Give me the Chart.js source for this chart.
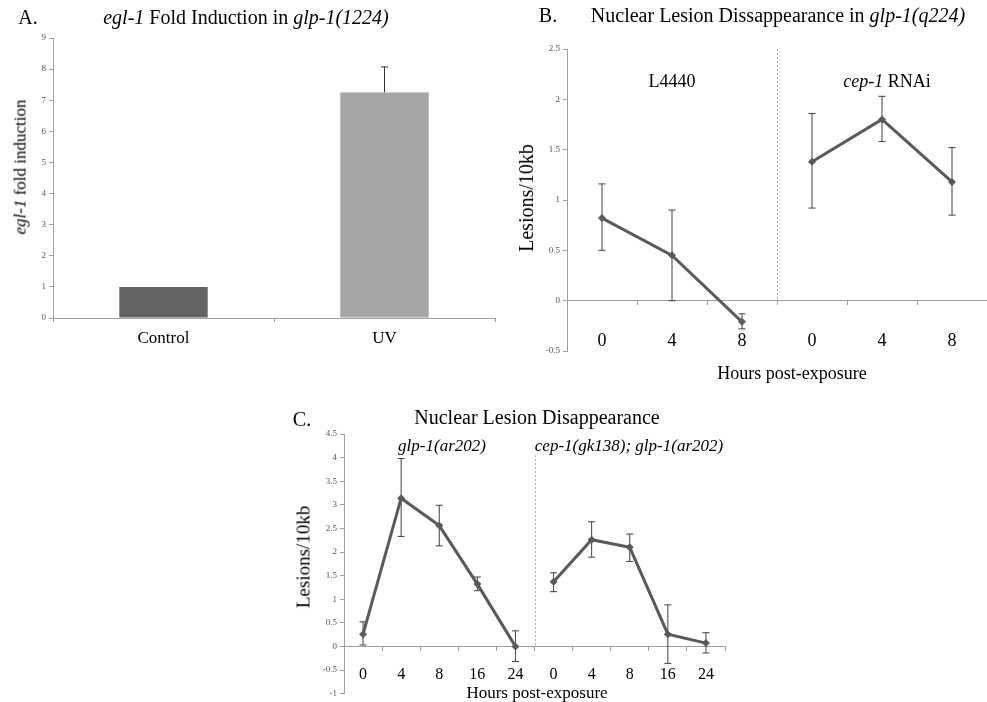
<!DOCTYPE html>
<html>
<head>
<meta charset="utf-8">
<script src="https://cdn.jsdelivr.net/npm/chart.js@4.4.1/dist/chart.umd.min.js"></script>
<style>
  html, body { margin:0; padding:0; background:#fff; }
  body { width:987px; height:702px; position:relative; overflow:hidden; font-family:'Liberation Serif','Times New Roman',serif; color:#000; }
  canvas { position:absolute; }
  .t { position:absolute; white-space:nowrap; transform:translate(-50%,-50%); line-height:1; }
  .r { position:absolute; white-space:nowrap; transform:translate(-50%,-50%) rotate(-90deg); line-height:1; }
  i { font-style:italic; }
</style>
</head>
<body>
<canvas id="cA" width="500" height="360" style="left:0;top:0"></canvas>
<canvas id="cB" width="501" height="400" style="left:490px;top:0"></canvas>
<canvas id="cC" width="460" height="302" style="left:270px;top:400px"></canvas>

<div class="t" style="left:28px;top:17px;font-size:20px">A.</div>
<div class="t" style="left:246px;top:17px;font-size:20px"><i>egl-1</i> Fold Induction in <i>glp-1(1224)</i></div>
<div class="r" style="left:20px;top:167px;font-size:17px"><i>egl-1</i> fold induction</div>

<div class="t" style="left:548px;top:15px;font-size:20px">B.</div>
<div class="t" style="left:778px;top:15px;font-size:20px">Nuclear Lesion Dissappearance in <i>glp-1(q224)</i></div>
<div class="r" style="left:526px;top:198px;font-size:20px">Lesions/10kb</div>
<div class="t" style="left:672px;top:81px;font-size:18px">L4440</div>
<div class="t" style="left:887px;top:81px;font-size:18px"><i>cep-1</i> RNAi</div>
<div class="t" style="left:792px;top:373px;font-size:18px">Hours post-exposure</div>

<div class="t" style="left:302px;top:419px;font-size:20px">C.</div>
<div class="t" style="left:537px;top:417px;font-size:20px">Nuclear Lesion Disappearance</div>
<div class="r" style="left:303px;top:557px;font-size:19px">Lesions/10kb</div>
<div class="t" style="left:442px;top:445px;font-size:17px"><i>glp-1(ar202)</i></div>
<div class="t" style="left:629px;top:445px;font-size:17px"><i>cep-1(gk138); glp-1(ar202)</i></div>
<div class="t" style="left:537px;top:692px;font-size:17px">Hours post-exposure</div>

<script>
// ---------- Panel A data ----------
const aCategories = ['Control', 'UV'];
const aValues = [1.0, 7.25];
const aErrHigh = [1.0, 8.07];
const aTicks = [0, 1, 2, 3, 4, 5, 6, 7, 8, 9];

// ---------- Panel B data ----------
const bLabels = ['0', '4', '8', '0', '4', '8'];
const bL4440 = [0.82, 0.45, -0.21, null, null, null];
const bL4440Low = [0.50, 0.00, -0.28, null, null, null];
const bL4440High = [1.16, 0.90, -0.13, null, null, null];
const bCep = [null, null, null, 1.38, 1.80, 1.18];
const bCepLow = [null, null, null, 0.92, 1.58, 0.85];
const bCepHigh = [null, null, null, 1.86, 2.03, 1.52];

// ---------- Panel C data ----------
const cLabels = ['0', '4', '8', '16', '24', '0', '4', '8', '16', '24'];
const cGlp = [0.26, 3.14, 2.56, 1.32, 0.00, null, null, null, null, null];
const cGlpLow = [0.03, 2.33, 2.13, 1.18, -0.32, null, null, null, null, null];
const cGlpHigh = [0.52, 3.98, 2.99, 1.47, 0.33, null, null, null, null, null];
const cCep = [null, null, null, null, null, 1.37, 2.26, 2.10, 0.26, 0.07];
const cCepLow = [null, null, null, null, null, 1.16, 1.89, 1.80, -0.36, -0.14];
const cCepHigh = [null, null, null, null, null, 1.56, 2.64, 2.38, 0.88, 0.29];

const SERIF = "'Liberation Serif','Times New Roman',serif";
const LINE = '#5a5a5a';
const AXIS = '#a0a0a0';

const errorBars = {
  id: 'errorBars',
  beforeDatasetsDraw(chart) {
    const ctx = chart.ctx, y = chart.scales.y;
    chart.data.datasets.forEach((ds, di) => {
      if (!ds.errHigh) return;
      const meta = chart.getDatasetMeta(di);
      meta.data.forEach((el, i) => {
        const v = ds.data[i];
        if (v === null || v === undefined) return;
        const hi = ds.errHigh[i];
        const lo = ds.errLow ? ds.errLow[i] : v;
        if (hi === lo) return;
        const x = el.x;
        const yh = y.getPixelForValue(hi), yl = y.getPixelForValue(lo);
        ctx.save();
        ctx.strokeStyle = ds.errColor || '#333';
        ctx.lineWidth = 1;
        ctx.beginPath();
        ctx.moveTo(x, yl); ctx.lineTo(x, yh);
        const c = ds.capHalf || 3.5;
        ctx.moveTo(x - c, yh); ctx.lineTo(x + c, yh);
        if (ds.errLow) { ctx.moveTo(x - c, yl); ctx.lineTo(x + c, yl); }
        ctx.stroke();
        ctx.restore();
      });
    });
  }
};

const divider = {
  id: 'divider',
  beforeDatasetsDraw(chart, args, opts) {
    if (opts.index === undefined) return;
    const xs = chart.scales.x, ys = chart.scales.y;
    const x = (xs.getPixelForValue(opts.index - 1) + xs.getPixelForValue(opts.index)) / 2;
    const ctx = chart.ctx;
    ctx.save();
    ctx.strokeStyle = '#b0b0b0';
    ctx.lineWidth = 1;
    ctx.setLineDash([2, 2]);
    ctx.beginPath();
    ctx.moveTo(Math.round(x) + 0.5, ys.getPixelForValue(opts.from));
    ctx.lineTo(Math.round(x) + 0.5, ys.getPixelForValue(0));
    ctx.stroke();
    ctx.restore();
  }
};

function yAxis(min, max, step, width) {
  return {
    min, max,
    ticks: { stepSize: step, color: '#555', font: { family: SERIF, size: 9 }, padding: 3,
             callback: v => String(Math.round(v * 10) / 10) },
    grid: { drawOnChartArea: false, drawTicks: true, tickLength: 4, color: AXIS },
    border: { color: AXIS, width: 1 },
    afterFit(s) { s.width = width; }
  };
}

function lineDs(data, lo, hi) {
  return {
    data, errLow: lo, errHigh: hi, errColor: '#404040',
    borderColor: LINE, borderWidth: 3, backgroundColor: LINE,
    pointStyle: 'rectRot', pointRadius: 4, pointBackgroundColor: LINE, pointBorderWidth: 0,
    tension: 0, spanGaps: false, fill: false
  };
}

const common = {
  responsive: false, animation: false, devicePixelRatio: 1,
  plugins: { legend: { display: false }, tooltip: { enabled: false }, title: { display: false } }
};

// ---------- Chart A ----------
new Chart(document.getElementById('cA'), {
  type: 'bar',
  data: {
    labels: aCategories,
    datasets: [{
      data: aValues, errHigh: aErrHigh, errColor: '#333',
      backgroundColor: ['#646464', '#a6a6a6'],
      borderWidth: 0, barPercentage: 0.4, categoryPercentage: 1.0
    }]
  },
  options: Object.assign({}, common, {
    layout: { padding: { top: 38, right: 5, left: 0, bottom: 0 } },
    scales: {
      x: {
        ticks: { color: '#000', font: { family: SERIF, size: 17 }, padding: 6 },
        grid: { drawOnChartArea: false, drawTicks: true, tickLength: 4, color: AXIS, offset: true },
        border: { color: AXIS },
        afterFit(s) { s.height = 42; }
      },
      y: yAxis(0, 9, 1, 53)
    }
  }),
  plugins: [errorBars]
});

// ---------- Chart B ----------
new Chart(document.getElementById('cB'), {
  type: 'line',
  data: {
    labels: bLabels,
    datasets: [lineDs(bL4440, bL4440Low, bL4440High), lineDs(bCep, bCepLow, bCepHigh)]
  },
  options: Object.assign({}, common, {
    layout: { padding: { top: 49, right: 0, left: 0, bottom: 49 } },
    plugins: Object.assign({}, common.plugins, { divider: { index: 3, from: 2.5 } }),
    scales: {
      x: {
        position: { y: 0 }, offset: true,
        ticks: { color: '#000', font: { family: SERIF, size: 18 }, padding: 26 },
        grid: { drawOnChartArea: false, drawTicks: true, tickLength: 4, color: AXIS, offset: true },
        border: { color: AXIS }
      },
      y: yAxis(-0.5, 2.5, 0.5, 77)
    }
  }),
  plugins: [errorBars, divider]
});

// ---------- Chart C ----------
new Chart(document.getElementById('cC'), {
  type: 'line',
  data: {
    labels: cLabels,
    datasets: [lineDs(cGlp, cGlpLow, cGlpHigh), lineDs(cCep, cCepLow, cCepHigh)]
  },
  options: Object.assign({}, common, {
    layout: { padding: { top: 34, right: 5, left: 0, bottom: 6 } },
    plugins: Object.assign({}, common.plugins, { divider: { index: 5, from: 4.05 } }),
    scales: {
      x: {
        position: { y: 0 }, offset: true,
        ticks: { color: '#000', font: { family: SERIF, size: 16 }, padding: 15 },
        grid: { drawOnChartArea: false, drawTicks: true, tickLength: 4, color: AXIS, offset: true },
        border: { color: AXIS }
      },
      y: yAxis(-1, 4.5, 0.5, 74)
    }
  }),
  plugins: [errorBars, divider]
});
</script>
</body>
</html>
